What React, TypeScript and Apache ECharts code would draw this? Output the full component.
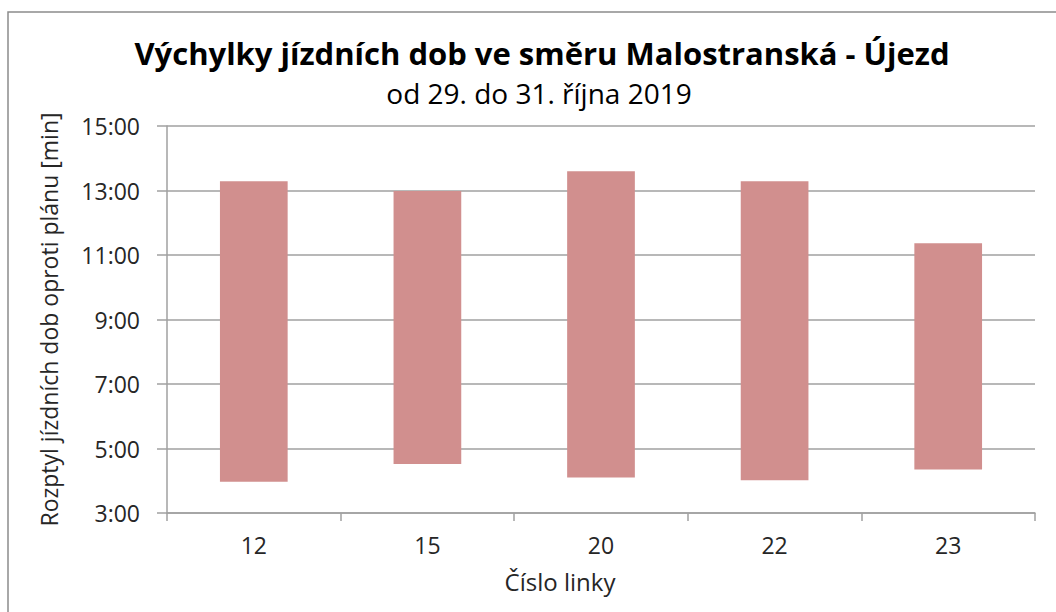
import React, { useEffect, useRef } from "react";
import * as echarts from "echarts";

const categories = ["12", "15", "20", "22", "23"];
const minTimes = ["3:58", "4:31", "4:06", "4:01", "4:21"];
const maxTimes = ["13:17", "12:59", "13:36", "13:17", "11:22"];
const yTicks = { min: "3:00", max: "15:00", step: "2:00" };

const titleText = "Výchylky jízdních dob ve směru Malostranská - Újezd";
const subtitleText = "od 29. do 31. října 2019";
const yName = "Rozptyl jízdních dob oproti plánu [min]";
const xName = "Číslo linky";

const toSec = (s: string) => {
  const [m, sec] = s.split(":").map(Number);
  return m * 60 + sec;
};
const fmt = (v: number) => {
  const m = Math.floor(v / 60);
  const s = Math.round(v - m * 60);
  return `${m}:${s.toString().padStart(2, "0")}`;
};

const FONT = "'Open Sans', 'Noto Sans', sans-serif";

export default function App() {
  const ref = useRef<HTMLDivElement>(null);
  useEffect(() => {
    if (!ref.current) return;
    const chart = echarts.init(ref.current, undefined, { renderer: "svg" });
    const lows = minTimes.map(toSec);
    const highs = maxTimes.map(toSec);
    const spans = highs.map((h, i) => h - lows[i]);
    chart.setOption({
      animation: false,
      backgroundColor: "#ffffff",
      textStyle: { fontFamily: FONT },
      graphic: [
        {
          type: "rect",
          shape: { x: 8, y: 12, width: 1200, height: 800 },
          style: { fill: "none", stroke: "#8c8c8c", lineWidth: 1.5 },
          silent: true,
        },
        {
          type: "text",
          x: 542,
          y: 53,
          style: {
            text: titleText,
            textAlign: "center",
            textVerticalAlign: "middle",
            font: `bold 31px ${FONT}`,
            fill: "#000000",
          },
        },
        {
          type: "text",
          x: 539,
          y: 93,
          style: {
            text: subtitleText,
            textAlign: "center",
            textVerticalAlign: "middle",
            font: `28px ${FONT}`,
            fill: "#000000",
          },
        },
      ],
      grid: { left: 167, right: 21, top: 126, bottom: 99, containLabel: false },
      xAxis: {
        type: "category",
        data: categories,
        boundaryGap: true,
        name: xName,
        nameLocation: "middle",
        nameGap: 56,
        nameTextStyle: {
          fontFamily: FONT,
          fontSize: 24,
          color: "#262626",
          padding: [0, 82, 0, 0],
        },
        axisLine: { lineStyle: { color: "#a0a0a0", width: 1.5 } },
        axisTick: { show: true, length: 8, lineStyle: { color: "#a0a0a0", width: 1.5 } },
        axisLabel: { fontFamily: FONT, fontSize: 23, color: "#262626", margin: 20 },
        splitLine: { show: false },
      },
      yAxis: {
        type: "value",
        min: toSec(yTicks.min),
        max: toSec(yTicks.max),
        interval: toSec(yTicks.step),
        name: yName,
        nameLocation: "middle",
        nameRotate: 90,
        nameGap: 107,
        nameTextStyle: { fontFamily: FONT, fontSize: 23, color: "#262626" },
        axisLine: { show: true, lineStyle: { color: "#a0a0a0", width: 1.5 } },
        axisTick: { show: true, length: 10, lineStyle: { color: "#a0a0a0", width: 1.5 } },
        axisLabel: {
          fontFamily: FONT,
          fontSize: 23,
          color: "#262626",
          margin: 27,
          formatter: (v: number) => fmt(v),
        },
        splitLine: { show: true, lineStyle: { color: "#a0a0a0", width: 1.5 } },
      },
      series: [
        {
          type: "bar",
          stack: "range",
          data: lows,
          barWidth: "39%",
          itemStyle: { color: "transparent" },
          silent: true,
        },
        {
          type: "bar",
          stack: "range",
          data: spans,
          barWidth: "39%",
          itemStyle: { color: "#d18f8e" },
        },
      ],
    });
    return () => chart.dispose();
  }, []);
  return (
    <div
      ref={ref}
      style={{ position: "fixed", left: 0, top: 0, width: 1056, height: 612 }}
    />
  );
}
